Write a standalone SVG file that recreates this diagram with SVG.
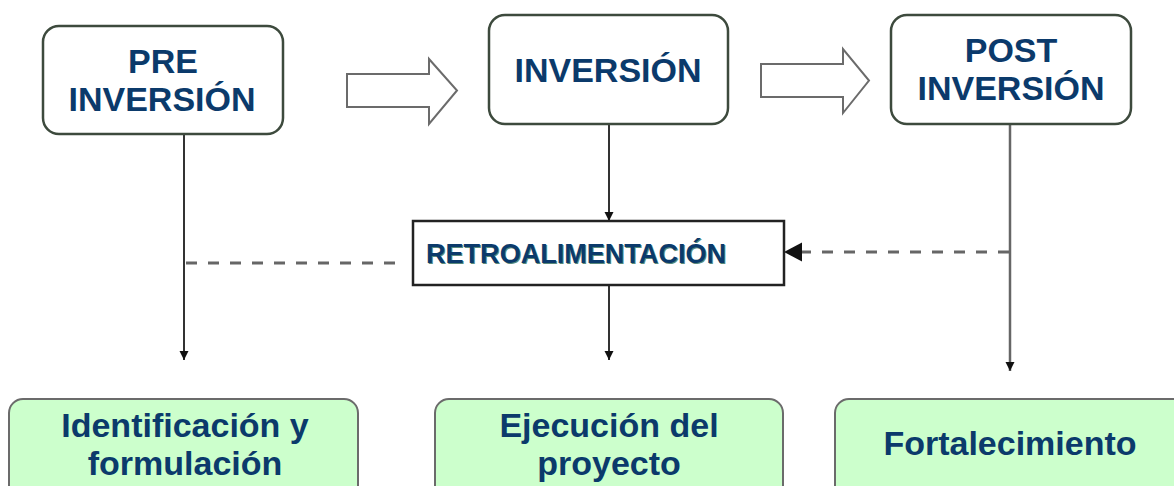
<svg xmlns="http://www.w3.org/2000/svg" width="1174" height="486" viewBox="0 0 1174 486">
<defs>
<style>
.top{fill:#fff;stroke:#3d4a3d;stroke-width:2.5}
.bot{fill:#ccffcc;stroke:#6b6b6b;stroke-width:2}
.blk{fill:#fff;stroke:#6b6b6b;stroke-width:2}
.t{font-family:"Liberation Sans",Arial,sans-serif;font-weight:bold;fill:#0b3a6b;text-anchor:middle;font-size:34px}
.line{stroke:#333;stroke-width:2;fill:none}
.gline{stroke:#666;stroke-width:2.5;fill:none}
.dash{stroke:#666;stroke-width:3;fill:none;stroke-dasharray:11 11}
</style>
<marker id="ah" viewBox="0 0 10 10" refX="10" refY="5" markerWidth="9" markerHeight="11" markerUnits="userSpaceOnUse" orient="auto">
<path d="M0,0 L10,5 L0,10 Z" fill="#111"/>
</marker>
<marker id="ahL" viewBox="0 0 10 10" refX="10" refY="5" markerWidth="19" markerHeight="19" markerUnits="userSpaceOnUse" orient="auto">
<path d="M0,0 L10,5 L0,10 Z" fill="#111"/>
</marker>
</defs>
<rect width="1174" height="486" fill="#fff"/>

<g id="connectors">
<path class="line" d="M184,134 V360" marker-end="url(#ah)"/>
<path class="line" d="M609,124 V221" marker-end="url(#ah)"/>
<path class="line" d="M609,285 V360" marker-end="url(#ah)"/>
<path class="gline" d="M1010,124 V371" marker-end="url(#ah)"/>
<path class="dash" d="M186,263 H404"/>
<path class="dash" d="M1009,252 H800"/>
<path d="M802,242.5 L784,252 L802,261.5 Z" fill="#111"/>
<path class="blk" d="M347,74 H429 V59 L457,90.5 L429,124 V107 H347 Z"/>
<path class="blk" d="M761,64 H843 V49 L869,80.5 L843,113 V97 H761 Z"/>
</g>

<g id="pre">
<rect class="top" x="43" y="26" width="240" height="108" rx="16"/>
<text class="t" x="163" y="73">PRE</text>
<text class="t" x="162" y="111">INVERSIÓN</text>
</g>
<g id="inv">
<rect class="top" x="489" y="15" width="239" height="109" rx="16"/>
<text class="t" x="608" y="82">INVERSIÓN</text>
</g>
<g id="post">
<rect class="top" x="891" y="15" width="240" height="109" rx="16"/>
<text class="t" x="1011" y="62">POST</text>
<text class="t" x="1011" y="100">INVERSIÓN</text>
</g>
<g id="retro">
<rect x="413" y="221" width="371" height="64" fill="#fff" stroke="#222" stroke-width="2.5"/>
<text class="t" x="577" y="264" style="font-size:27px;fill:#5a8a7a" textLength="300" lengthAdjust="spacingAndGlyphs">RETROALIMENTACIÓN</text>
<text class="t" x="576" y="263" style="font-size:27px" textLength="300" lengthAdjust="spacingAndGlyphs">RETROALIMENTACIÓN</text>
</g>
<g id="ident">
<rect class="bot" x="9" y="399" width="349" height="100" rx="14"/>
<text class="t" x="185" y="437">Identificación y</text>
<text class="t" x="185" y="475">formulación</text>
</g>
<g id="ejec">
<rect class="bot" x="435" y="399" width="348" height="100" rx="14"/>
<text class="t" x="609" y="437">Ejecución del</text>
<text class="t" x="609" y="475">proyecto</text>
</g>
<g id="fort">
<rect class="bot" x="835" y="399" width="360" height="100" rx="14"/>
<text class="t" x="1010" y="455">Fortalecimiento</text>
</g>
</svg>
